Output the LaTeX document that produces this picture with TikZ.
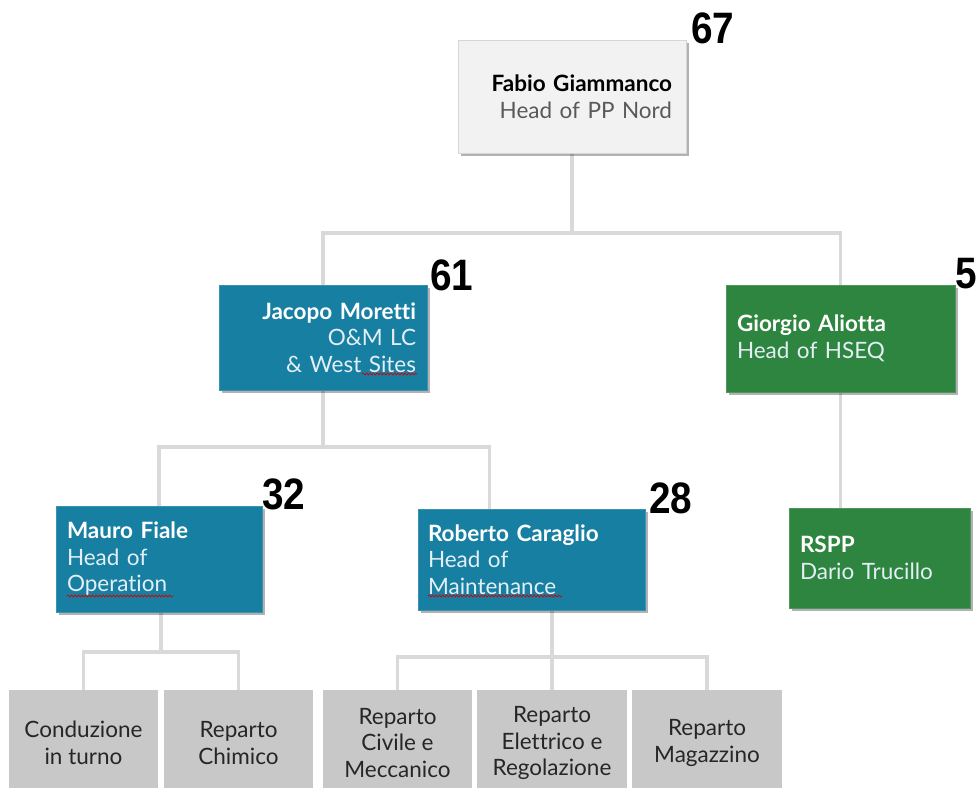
\documentclass[tikz,border=0pt]{standalone}
\usepackage{fontspec}
\setmainfont{Lato}[Ligatures=NoCommon]
\newfontfamily\numfont{Liberation Sans}[FakeStretch=0.88]
\usetikzlibrary{shadows,calc,decorations.pathmorphing,backgrounds}

\definecolor{headfill}{HTML}{F2F2F2}
\definecolor{headline}{HTML}{D6D6D6}
\definecolor{omblue}{HTML}{177FA2}
\definecolor{hseqgreen}{HTML}{2E8540}
\definecolor{deptgray}{HTML}{C8C8C8}
\definecolor{linkgray}{HTML}{D9D9D9}
\definecolor{subgray}{HTML}{595959}
\definecolor{softwhite}{HTML}{E3EFF4}
\definecolor{darktext}{HTML}{262626}

\tikzset{
  txt/.style={font=\fontsize{22.5}{26.5}\selectfont},
  card/.style={txt, inner ysep=0pt, drop shadow={shadow xshift=2.5pt, shadow yshift=-2.5pt, opacity=0.3, fill=black}},
  headcard/.style={card, fill=headfill, draw=headline, line width=0.8pt, text=black, align=right},
  omcard/.style={card, fill=omblue, draw=omblue!85!white, line width=0.8pt, text=white},
  hseqcard/.style={card, fill=hseqgreen, draw=hseqgreen!85!white, line width=0.8pt, text=white, align=left},
  dept/.style={txt, fill=deptgray, text=darktext, align=center, inner sep=0pt,
    minimum height=106, minimum width=149},
  link/.style={draw=linkgray, line width=3.5pt},
  headcount/.style={font=\numfont\bfseries\fontsize{44}{44}\selectfont, inner sep=0pt, anchor=base west},
  spell/.style={draw=red!85!black, line width=0.7pt, decorate,
    decoration={snake, amplitude=1pt, segment length=3.5pt}}
}

\begin{document}
\begin{tikzpicture}[x=1pt, y=1pt]
\useasboundingbox (0,0) rectangle (979,-787);

\coordinate (busA) at (0,-233);
\coordinate (busB) at (0,-447);
\coordinate (busC) at (0,-652);
\coordinate (busD) at (0,-657);

% management boxes
\node[headcard, minimum width=228, minimum height=113, inner xsep=14pt, text width=200]
  (fabio) at (572,-96.5)
  {\textbf{Fabio Giammanco}\\{\color{subgray}Head of PP Nord}};

\node[omcard, align=right, minimum width=208, minimum height=105, inner xsep=11pt, text width=186]
  (jacopo) at (323,-337.5)
  {\textbf{Jacopo Moretti}\\{\color{softwhite}O\&M LC}\\{\color{softwhite}\& West Sites}};

\node[hseqcard, minimum width=229, minimum height=107, inner xsep=11pt, text width=207]
  (giorgio) at (840.5,-338.5)
  {\textbf{Giorgio Aliotta}\\{\color{softwhite}Head of HSEQ}};

\node[omcard, align=left, minimum width=206, minimum height=106, inner xsep=11pt, text width=184]
  (mauro) at (159,-559)
  {\textbf{Mauro Fiale}\\{\color{softwhite}Head of}\\{\color{softwhite}Operation}};

\node[omcard, align=left, minimum width=227, minimum height=101, inner xsep=10pt, text width=207]
  (roberto) at (531.5,-559.5)
  {\textbf{Roberto Caraglio}\\{\color{softwhite}Head of}\\{\color{softwhite}Maintenance}};

\node[hseqcard, minimum width=181, minimum height=100, inner xsep=11pt, text width=159]
  (rspp) at (879.5,-558)
  {\textbf{RSPP}\\{\color{softwhite}Dario Trucillo}};

% departments
\node[dept] (conduzione) at (83.5,-743)  {Conduzione\\in turno};
\node[dept] (chimico)    at (238.5,-743) {Reparto\\Chimico};
\node[dept] (civile)     at (397.5,-743) {Reparto\\Civile e\\Meccanico};
\node[dept, minimum width=150] (elettrico) at (552,-743) {Reparto\\Elettrico e\\Regolazione};
\node[dept, minimum width=150] (magazzino) at (707,-743) {Reparto\\Magazzino};

% reporting lines, behind the boxes
\begin{scope}[on background layer]
\draw[link] (fabio.south) -- (fabio.south |- busA);
\draw[link] (jacopo.north) |- (giorgio.north |- busA) -- (giorgio.north);
\draw[link] (jacopo.south) -- (jacopo.south |- busB);
\coordinate (robtop) at ($(roberto.north west)+(72,0)$);
\draw[link] (mauro.north) |- (robtop |- busB) -- (robtop);
\draw[link] (giorgio.south) -- (giorgio.south |- rspp.north);
\coordinate (opsplit) at ($(conduzione.north)!0.5!(chimico.north)$);
\draw[link] (conduzione.north) |- (chimico.north |- busC) -- (chimico.north);
\draw[link] (opsplit |- busC) -- (opsplit |- mauro.south);
\draw[link] (civile.north) |- (magazzino.north |- busD) -- (magazzino.north);
\draw[link] (elettrico.north) -- (elettrico.north |- roberto.south);
\end{scope}

% headcounts
\node[headcount] (n67) at (691,-43)  {67};
\node[headcount] (n61) at (430,-290) {61};
\node[headcount] (n5)  at (955,-288) {5};
\node[headcount] (n32) at (262,-509) {32};
\node[headcount] (n28) at (649,-513) {28};

% proofing marks under words
\draw[spell] (362,-374) -- (417,-374);
\draw[spell] (67,-596) -- (173,-596);
\draw[spell] (428,-596) -- (562,-596);
\end{tikzpicture}
\end{document}
